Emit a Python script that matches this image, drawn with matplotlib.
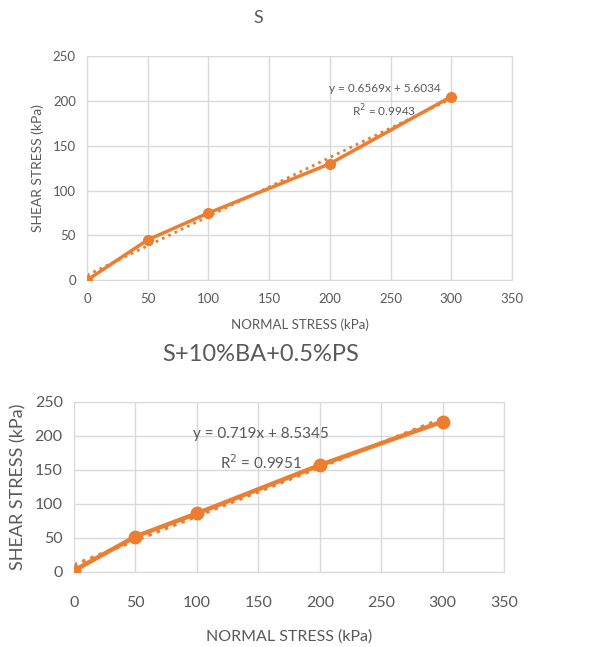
import numpy as np
import matplotlib.pyplot as plt

plt.rcParams['font.family'] = ['Lato', 'DejaVu Sans']

# dane
normal_stress = [0, 50, 100, 200, 300]
shear_s = [0, 45, 75, 130, 205]
shear_ba_ps = [2, 52, 86, 157, 221]

title_s = 'S'
title_ba_ps = 'S+10%BA+0.5%PS'
eq_s = 'y = 0.6569x + 5.6034\nR$^2$ = 0.9943'
eq_ba_ps = 'y = 0.719x + 8.5345\nR$^2$ = 0.9951'

orange = '#ED7D31'
grey = '#595959'
grid = '#D9D9D9'

fig = plt.figure(figsize=(5.96, 6.47), dpi=100)
ax1 = fig.add_axes([0.146, 0.567, 0.713, 0.346])
ax2 = fig.add_axes([0.124, 0.116, 0.722, 0.263])


def rysuj(ax, y, eq, eq_xy, fs_tick, fs_xlab, fs_ylab, fs_eq, pad, xpad, ms, lw, ls_eq):
    x = np.array(normal_stress)
    a, b = np.polyfit(x, y, 1)
    ax.plot(x, a * x + b, color=orange, lw=lw * 0.8, ls=(0, (1, 1.5)), zorder=2)
    ax.plot(x, y, color=orange, lw=lw, marker='o', ms=ms, zorder=3)
    ax.set_xlim(0, 350)
    ax.set_ylim(0, 250)
    ax.set_xticks(range(0, 351, 50))
    ax.set_yticks(range(0, 251, 50))
    ax.grid(True, color=grid, lw=1)
    ax.set_axisbelow(True)
    for s in ax.spines.values():
        s.set_color(grid)
    ax.tick_params(length=0, labelsize=fs_tick, labelcolor=grey)
    ax.tick_params(axis='x', pad=pad)
    ax.tick_params(axis='y', pad=8)
    ax.set_xlabel('NORMAL STRESS (kPa)', fontsize=fs_xlab, color=grey, labelpad=xpad)
    ax.set_ylabel('SHEAR STRESS (kPa)', fontsize=fs_ylab, color=grey, labelpad=6)
    ax.text(eq_xy[0], eq_xy[1], eq, fontsize=fs_eq, color=grey,
            ha='center', va='center', linespacing=ls_eq)


rysuj(ax1, shear_s, eq_s, (245, 200), 9.5, 9.5, 10, 8.5, 9, 10, 7, 2.5, 1.6)
rysuj(ax2, shear_ba_ps, eq_ba_ps, (152, 180), 11.5, 11.5, 13, 11, 17, 14, 9, 3.2, 1.8)

fig.text(0.433, 0.972, title_s, fontsize=13, color=grey, ha='center', va='center')
fig.text(0.437, 0.452, title_ba_ps, fontsize=17, color=grey, ha='center', va='center')

fig.savefig('out.png', dpi=100)
